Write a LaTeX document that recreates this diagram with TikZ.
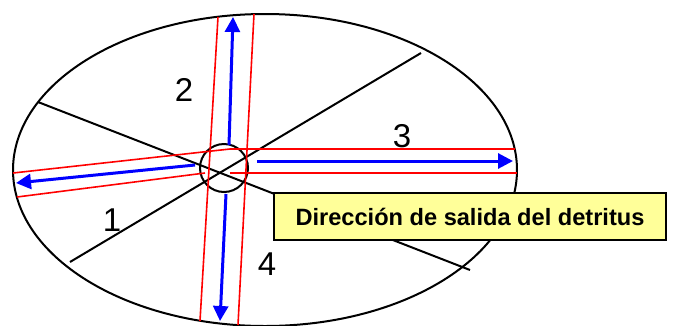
\documentclass[tikz,border=0pt]{standalone}
\usepackage{fontspec}
\setmainfont{Liberation Sans}
\usepackage{xcolor}
\usetikzlibrary{arrows.meta}
\definecolor{notefill}{HTML}{FFFF99}

\begin{document}
\begin{tikzpicture}[x=1pt,y=-1pt,
 rim/.style={line width=2pt,black},
 band/.style={line width=1.6pt,red},
 flow/.style={line width=3pt,blue,-{Triangle[length=15pt,width=15pt]}},
 num/.style={font=\fontsize{33}{33}\selectfont,inner sep=0pt},
 note/.style={draw,line width=1.6pt,fill=notefill,minimum width=392pt,minimum height=47pt,
   font=\bfseries\fontsize{23.6}{23.6}\selectfont}]
\useasboundingbox (0,0) rectangle (678,325);
% rim, dividers and hub
\draw[rim] (265,170) ellipse [x radius=252pt,y radius=156pt];
\draw[rim] (38,102) -- (470,270);
\draw[rim] (70,262) -- (421,53);
\draw[rim] (224,168) circle [radius=24pt];
% channels
\draw[band] (218,17) -- (200,321);
\draw[band] (254,14) -- (238,325);
\draw[band] (13,173) -- (230,149) -- (515,149);
\draw[band] (17,197) -- (205,173);
\draw[band] (230,173) -- (517,173);
% outflow arrows
\coordinate (hubN) at (229,145);
\coordinate (hubE) at (257,161);
\coordinate (hubW) at (195,165);
\coordinate (hubS) at (226,194);
\coordinate (rimN) at (233,17);
\coordinate (rimE) at (513,161);
\coordinate (rimW) at (16,183);
\coordinate (rimS) at (220,321);
\draw[flow] (hubN) -- (rimN);
\draw[flow] (hubE) -- (rimE);
\draw[flow] (hubW) -- (rimW);
\draw[flow] (hubS) -- (rimS);
% sector numbers
\node[num] (s1) at (112,220) {1};
\node[num] (s2) at (184,90) {2};
\node[num] (s3) at (402,136) {3};
\node[num] (s4) at (267,264) {4};
\node[note] (label) at (470,216.5) {Dirección de salida del detritus};
\end{tikzpicture}
\end{document}
